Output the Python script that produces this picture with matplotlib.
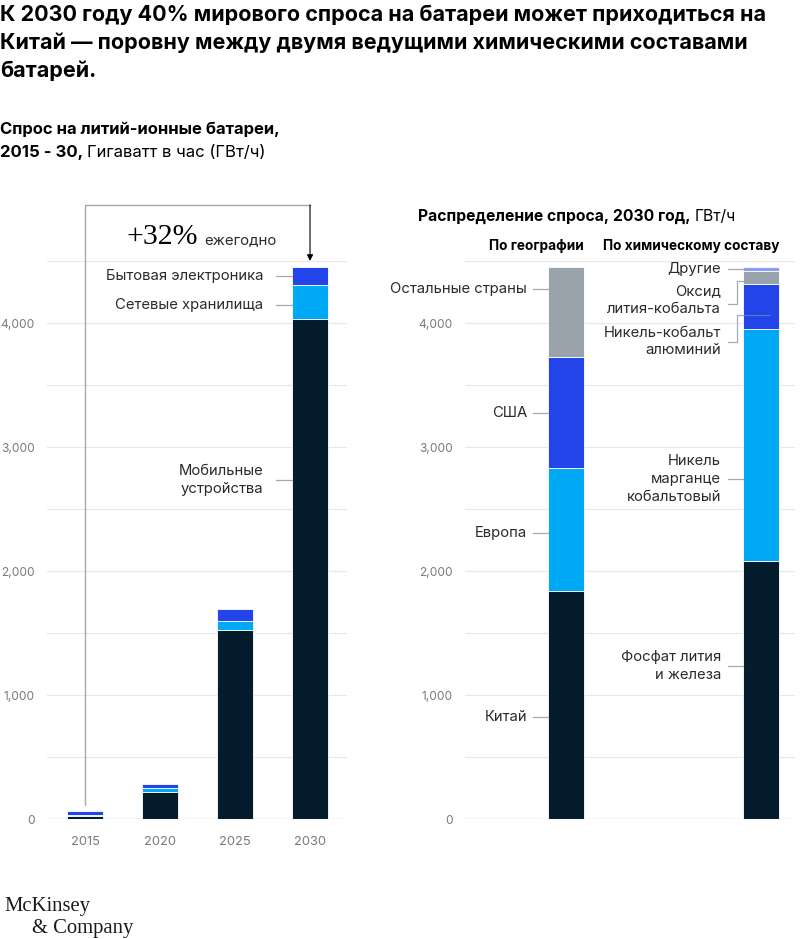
import matplotlib
matplotlib.use("Agg")
import matplotlib.pyplot as plt
import numpy as np
from matplotlib.ticker import FuncFormatter, MultipleLocator

# ── Data ─────────────────────────────────────────────────────────────────────
years = ["2015", "2020", "2025", "2030"]
mobile = [25, 220, 1525, 4035]
storage = [5, 30, 70, 270]
consumer = [34, 32, 95, 145]

geo_names = ["Китай", "Европа", "США", "Остальные страны"]
geo_values = [1839, 992, 895, 726]

chem_names = ["Фосфат лития\nи железа", "Никель\nмарганце\nкобальтовый",
              "Никель-кобальт\nалюминий", "Оксид\nлития-кобальта", "Другие"]
chem_values = [2081, 1871, 360, 110, 26]

# ── Theme ────────────────────────────────────────────────────────────────────
NAVY = "#051c2c"
CYAN = "#00a9f4"
BLUE = "#2244e8"
GREY = "#99a3ab"
LAVENDER = "#8d9cf0"
GRID = "#e8e8e8"
TICK = "#7a7a7a"
TEXT = "#2b2b2b"
LINE = "#a8a8a8"

plt.rcParams["font.family"] = ["Inter", "DejaVu Sans"]

W, H = 808, 939
fig = plt.figure(figsize=(W / 100, H / 100), dpi=100)
renderer = fig.canvas.get_renderer()


def fx(px):
    return px / W


def fy(py):
    return 1 - py / H


def mixed_text(x, y, parts, size, gap=4):
    """Draw bold+regular pieces on one baseline (pixel coords from top-left)."""
    xf = fx(x)
    for txt, weight in parts:
        t = fig.text(xf, fy(y), txt, fontsize=size, weight=weight,
                     color="black", va="baseline", ha="left")
        bb = t.get_window_extent(renderer)
        xf = (bb.x1 + gap) / fig.bbox.width


# ── Titles ───────────────────────────────────────────────────────────────────
title_lines = ["К 2030 году 40% мирового спроса на батареи может приходиться на",
               "Китай — поровну между двумя ведущими химическими составами",
               "батарей."]
for i, line in enumerate(title_lines):
    fig.text(0, fy(21 + 28 * i), line, fontsize=15.5, weight="bold",
             color="black", va="baseline")

fig.text(0, fy(134), "Спрос на литий-ионные батареи,", fontsize=12,
         weight="bold", va="baseline")
mixed_text(0, 157, [("2015 - 30,", "bold"), ("Гигаватт в час (ГВт/ч)", "normal")], 12)
mixed_text(418, 221, [("Распределение спроса, 2030 год,", "bold"), ("ГВт/ч", "normal")], 11.3)

# ── Axes ─────────────────────────────────────────────────────────────────────
Y0, YTOP, VTOP = 819, 261, 4500
ax1 = fig.add_axes([fx(47), fy(Y0), fx(300), (Y0 - YTOP) / H])
ax2 = fig.add_axes([fx(465), fy(Y0), fx(330), (Y0 - YTOP) / H])

for ax in (ax1, ax2):
    ax.set_ylim(0, VTOP)
    ax.yaxis.set_major_locator(MultipleLocator(500))
    ax.yaxis.set_major_formatter(
        FuncFormatter(lambda v, p: f"{int(v):,}" if v % 1000 == 0 else ""))
    ax.grid(axis="y", color=GRID, linewidth=0.9, zorder=0)
    ax.set_axisbelow(True)
    for s in ax.spines.values():
        s.set_visible(False)
    ax.tick_params(axis="y", length=0, pad=9, labelsize=8.6, labelcolor=TICK)
    ax.tick_params(axis="x", length=0, pad=12, labelsize=9.3, labelcolor=TICK)
    ax.axhline(0, color="#dcdcdc", linewidth=1, zorder=1)

# left chart
bw1 = 0.48
x1 = np.arange(len(years))
ax1.set_xlim(-0.507, 3.493)
b1 = np.array(mobile)
b2 = b1 + np.array(storage)
ax1.bar(x1, mobile, bw1, color=NAVY, edgecolor="white", linewidth=0.6, zorder=2)
ax1.bar(x1, storage, bw1, bottom=b1, color=CYAN, edgecolor="white", linewidth=0.6, zorder=2)
ax1.bar(x1, consumer, bw1, bottom=b2, color=BLUE, edgecolor="white", linewidth=0.6, zorder=2)
ax1.set_xticks(x1)
ax1.set_xticklabels(years)

PX1 = 75.0  # pixels per category unit on the left chart
left_edge = x1[-1] - bw1 / 2
seg_labels = [("Бытовая электроника", 4379), ("Сетевые хранилища", 4145),
              ("Мобильные\nустройства", 2734)]
for lab, yv in seg_labels:
    ax1.plot([left_edge - 16 / PX1, left_edge], [yv, yv], color=LINE, lw=0.9, zorder=3)
    ax1.text(left_edge - 29 / PX1, yv, lab, ha="right", va="center",
             fontsize=10.7, color=TEXT, linespacing=1.32)

# growth bracket
top_2015 = mobile[0] + storage[0] + consumer[0]
y_br = 4952
ax1.plot([x1[0], x1[0], x1[-1]], [top_2015 + 50, y_br, y_br], color=LINE,
         lw=1, clip_on=False, zorder=3)
ax1.annotate("", xy=(x1[-1], 4500), xytext=(x1[-1], y_br),
             arrowprops=dict(arrowstyle="-|>", color="black", lw=0.8,
                             mutation_scale=9, shrinkA=0, shrinkB=0),
             annotation_clip=False)
pct = fig.text(fx(127), fy(244), "+32%", fontsize=21.5, color="black",
               family=["Liberation Serif", "DejaVu Serif"], va="baseline")
bb = pct.get_window_extent(renderer)
fig.text((bb.x1 + 6) / fig.bbox.width, fy(244), "ежегодно", fontsize=10.8,
         color=TEXT, va="baseline")

# right chart
bw2 = 0.185
PX2 = 195.0
ax2.set_xlim(-0.518, 1.174)
geo_colors = [NAVY, CYAN, BLUE, GREY]
chem_colors = [NAVY, CYAN, BLUE, GREY, LAVENDER]
bottom = 0
for v, c in zip(geo_values, geo_colors):
    ax2.bar(0, v, bw2, bottom=bottom, color=c, edgecolor="white", linewidth=0.6, zorder=2)
    bottom += v
bottom = 0
for v, c in zip(chem_values, chem_colors):
    ax2.bar(1, v, bw2, bottom=bottom, color=c, edgecolor="white", linewidth=0.6, zorder=2)
    bottom += v
ax2.set_xticks([])

geo_label_y = [823, 2306, 3274, 4274]
gl = 0 - bw2 / 2
for lab, yv in zip(geo_names, geo_label_y):
    ax2.plot([gl - 15 / PX2, gl], [yv, yv], color=LINE, lw=0.9, zorder=3)
    ax2.text(gl - 21 / PX2, yv, lab, ha="right", va="center", fontsize=10.7, color=TEXT)

cl = 1 - bw2 / 2
chem_text_y = [1234, 2742, 3849, 4185, 4435]
chem_line_y = [1234, 2742, 3849, 4153, 4435]
chem_tip_y = [1234, 2742, 4065, 4339, 4435]
chem_tip_x = [cl, cl, cl + 27 / PX2, cl, cl]
for lab, ty, ly, tipy, tipx in zip(chem_names, chem_text_y, chem_line_y,
                                   chem_tip_y, chem_tip_x):
    if tipy == ly:
        ax2.plot([cl - 15 / PX2, cl], [ly, ly], color=LINE, lw=0.9, zorder=3)
    else:
        xe = cl - 6 / PX2
        ax2.plot([cl - 15 / PX2, xe, xe, tipx], [ly, ly, tipy, tipy],
                 color=LINE if tipx == cl else "#7d8aa8", lw=0.9, zorder=3,
                 alpha=1 if tipx == cl else 0.7)
    ax2.text(cl - 22 / PX2, ty, lab, ha="right", va="center", fontsize=10.7,
             color=TEXT, linespacing=1.32)

# column headers, right-aligned to the bar edges
hdr_y = (Y0 - 250) / 124 * 1000
ax2.text(0 + bw2 / 2, hdr_y, "По географии", ha="right", va="baseline",
         fontsize=9.8, weight="bold", color="black", clip_on=False)
ax2.text(1 + bw2 / 2, hdr_y, "По химическому составу", ha="right", va="baseline",
         fontsize=9.8, weight="bold", color="black", clip_on=False)

# logo
fig.text(fx(4), fy(911), "McKinsey", fontsize=14.9, family=["Liberation Serif"],
         color="#1a1a1a", va="baseline")
fig.text(fx(32), fy(933), "& Company", fontsize=14.9, family=["Liberation Serif"],
         color="#1a1a1a", va="baseline")

fig.savefig("out.png", dpi=100, facecolor="white")
